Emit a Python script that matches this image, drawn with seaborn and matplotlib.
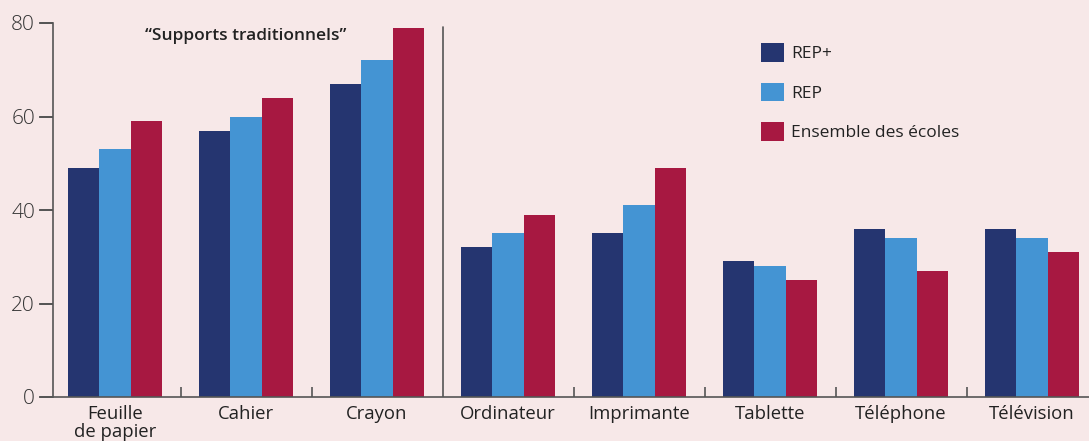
import pandas as pd
import matplotlib.pyplot as plt
import seaborn as sns
from matplotlib.ticker import FixedLocator

# Data (percentages)
supports = ['Feuille\nde papier', 'Cahier', 'Crayon', 'Ordinateur',
            'Imprimante', 'Tablette', 'Téléphone', 'Télévision']
groupes = ['REP+', 'REP', 'Ensemble des écoles']
rep_plus = [49, 57, 67, 32, 35, 29, 36, 36]
rep = [53, 60, 72, 35, 41, 28, 34, 34]
ensemble = [59, 64, 79, 39, 49, 25, 27, 31]
y_ticks = [0, 20, 40, 60, 80]

couleurs = ['#253570', '#4494d3', '#a71841']
fond = '#f7e8e8'
axe = '#555555'

df = pd.DataFrame({
    'support': supports * 3,
    'groupe': [g for g in groupes for _ in supports],
    'valeur': rep_plus + rep + ensemble,
})

sns.set_style('white')
plt.rcParams['font.family'] = ['Open Sans', 'DejaVu Sans']

fig = plt.figure(figsize=(10.89, 4.41), dpi=100, facecolor=fond)
ax = fig.add_axes([53 / 1089, 1 - 397 / 441, 1 - 53 / 1089, (397 - 23) / 441])
ax.set_facecolor(fond)

sns.barplot(data=df, x='support', y='valeur', hue='groupe', order=supports,
            hue_order=groupes, palette=couleurs, width=0.72, saturation=1,
            linewidth=0, ax=ax)
sns.despine(ax=ax)

ax.set_xlim((53 - 115) / 131, (1089 - 115) / 131)
ax.set_ylim(0, 80)
ax.set_yticks(y_ticks)
ax.set_xlabel('')
ax.set_ylabel('')

# separation between "traditional" and digital supports
ax.axvline(2.5, ymin=0, ymax=0.99, color=axe, lw=1.2)

# small inward ticks between groups
ax.xaxis.set_minor_locator(FixedLocator([0.5, 1.5, 3.5, 4.5, 5.5, 6.5]))
ax.tick_params(axis='x', which='major', bottom=False, length=0, pad=6,
               labelsize=13.3, labelcolor='#222222')
ax.tick_params(axis='x', which='minor', bottom=True, direction='in', length=7,
               width=1.2, color=axe)
ax.tick_params(axis='y', which='major', left=True, direction='out', length=10,
               width=1.3, color=axe, pad=3, labelsize=15, labelcolor='#333333')
# make sure the y tick marks show (white style hides them)
tick_len = 13 / (1089 - 53)
for v in y_ticks:
    ax.plot([-tick_len, 0], [v, v], transform=ax.get_yaxis_transform(),
            color=axe, lw=1.3, clip_on=False, solid_capstyle='butt')
for lab in ax.get_yticklabels():
    lab.set_fontweight('light')
for lab in ax.get_xticklabels():
    lab.set_linespacing(1.0)
    lab.set_verticalalignment('top')

for s in ['left', 'bottom']:
    ax.spines[s].set_color(axe)
    ax.spines[s].set_linewidth(1.2)

fig.text(246 / 1089, 1 - 36 / 441, '\u201cSupports traditionnels\u201d', fontsize=12.5,
         fontweight='semibold', color='#222222', ha='center', va='center')

leg = ax.legend(loc='upper left', bbox_to_anchor=(754 / 1089, 1 - 36 / 441),
                bbox_transform=fig.transFigure, frameon=False, fontsize=12.5,
                handlelength=1.3, handleheight=1.3, handletextpad=0.45,
                labelspacing=1.17, borderaxespad=0)
for t in leg.get_texts():
    t.set_color('#222222')
    t.set_fontweight('medium')

fig.savefig('out.png', dpi=100, facecolor=fond)
